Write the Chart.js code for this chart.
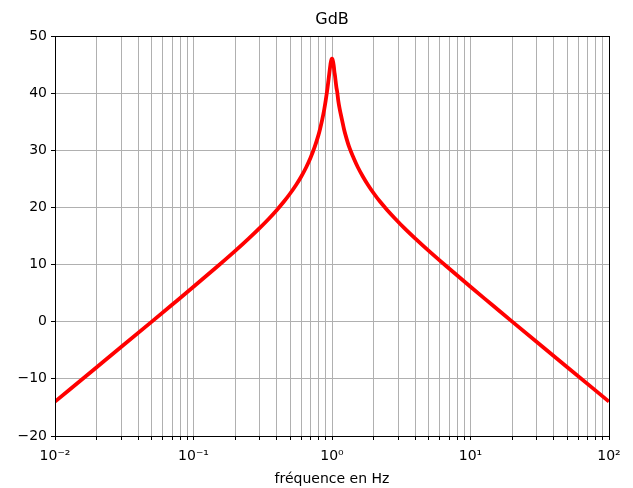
<!DOCTYPE html>
<html>
<head>
<meta charset="utf-8">
<script src="https://cdn.jsdelivr.net/npm/chart.js@4/dist/chart.umd.min.js"></script>
<style>
  html, body { margin: 0; padding: 0; background: #fff; }
  #wrap { width: 633px; height: 488px; }
</style>
</head>
<body>
<div id="wrap"><canvas id="gdbChart"></canvas></div>
<script>
// Frequencies (Hz) and gain (dB)
const freqs = [0.01, 0.02, 0.03, 0.05, 0.07, 0.1, 0.15, 0.2, 0.25, 0.3, 0.35, 0.4, 0.45, 0.5, 0.55, 0.6, 0.65, 0.7, 0.75, 0.8, 0.82, 0.85, 0.88, 0.9, 0.92, 0.93, 0.95, 0.96, 0.97, 0.98, 0.99, 0.995, 1.0,
               1.005, 1.01, 1.02, 1.031, 1.04, 1.05, 1.075, 1.09, 1.11, 1.136, 1.18, 1.22, 1.25, 1.33, 1.43, 1.54, 1.67, 1.82, 2, 2.22, 2.5, 2.86, 3.33, 4, 5, 6.67, 10, 14.3, 20, 33.3, 50, 100];
const gainDb = [-13.98, -7.96, -4.44, 0.02, 2.97, 6.11, 9.74, 12.39, 14.54, 16.38, 18.03, 19.57, 21.03, 22.48, 23.93, 25.42, 26.99, 28.69, 30.58, 32.74, 33.73, 35.36, 37.23, 38.66, 40.24, 41.09, 42.9, 43.81, 44.65, 45.37, 45.85, 45.98, 46.02,
                45.98, 45.85, 45.39, 44.65, 43.81, 43.11, 41.09, 40.24, 38.66, 37.23, 35.36, 33.73, 32.74, 30.58, 28.69, 26.99, 25.42, 23.93, 22.48, 21.03, 19.57, 18.03, 16.38, 14.54, 12.39, 9.74, 6.11, 2.97, 0.02, -4.44, -7.96, -13.98];

const decades = [0.01, 0.1, 1, 10, 100];
const decadeLabels = ['10⁻²', '10⁻¹', '10⁰', '10¹', '10²'];
const yTicks = [-20, -10, 0, 10, 20, 30, 40, 50];

const FONT = 'DejaVu Sans';

// black frame round the plot area, like matplotlib
const frame = {
  id: 'frame',
  afterDraw(chart) {
    const a = chart.chartArea, c = chart.ctx;
    c.save();
    c.strokeStyle = '#000';
    c.lineWidth = 1;
    c.strokeRect(Math.round(a.left) + 0.5, Math.round(a.top) + 0.5, Math.round(a.right - a.left), Math.round(a.bottom - a.top));
    c.restore();
  }
};

new Chart(document.getElementById('gdbChart'), {
  type: 'line',
  data: {
    datasets: [{
      data: freqs.map((f, i) => ({ x: f, y: gainDb[i] })),
      borderColor: '#ff0000',
      borderWidth: 3.8,
      pointRadius: 0,
      cubicInterpolationMode: 'monotone'
    }]
  },
  options: {
    responsive: true,
    maintainAspectRatio: false,
    animation: false,
    layout: { padding: { left: 0, right: 24, top: 0, bottom: 0 } },
    plugins: {
      legend: { display: false },
      tooltip: { enabled: false },
      title: {
        display: true,
        text: 'GdB',
        fullSize: false,
        color: '#000',
        font: { family: FONT, size: 16, weight: 'normal' },
        padding: { top: 10, bottom: 6.8 }
      }
    },
    scales: {
      x: {
        type: 'logarithmic',
        min: 0.01,
        max: 100,
        afterBuildTicks(scale) {
          const t = [];
          decades.forEach((d, k) => {
            if (k === decades.length - 1) { t.push({ value: d }); return; }
            for (let m = 1; m <= 9; m++) t.push({ value: +(m * d).toPrecision(3) });
          });
          scale.ticks = t;
        },
        afterFit(scale) { scale.height = 52; },
        grid: { color: '#b0b0b0', lineWidth: 1, tickColor: '#000', tickLength: 4 },
        border: { display: true, color: '#000' },
        ticks: {
          autoSkip: false,
          maxRotation: 0,
          padding: 8,
          color: '#000',
          font: { family: FONT, size: 14 },
          callback(v) {
            const k = decades.findIndex(d => Math.abs(d - v) < d * 1e-6);
            return k >= 0 ? decadeLabels[k] : '';
          }
        },
        title: {
          display: true,
          text: 'fréquence en Hz',
          color: '#000',
          font: { family: FONT, size: 14 },
          padding: { top: 4, bottom: 0 }
        }
      },
      y: {
        min: -20,
        max: 50,
        afterBuildTicks(scale) { scale.ticks = yTicks.map(v => ({ value: v })); },
        afterFit(scale) { scale.width = 55; },
        grid: { color: '#b0b0b0', lineWidth: 1, tickColor: '#000', tickLength: 4 },
        border: { display: true, color: '#000' },
        ticks: {
          padding: 4,
          color: '#000',
          font: { family: FONT, size: 14 },
          callback: v => String(v).replace('-', '−')
        }
      }
    }
  },
  plugins: [frame]
});
</script>
</body>
</html>
